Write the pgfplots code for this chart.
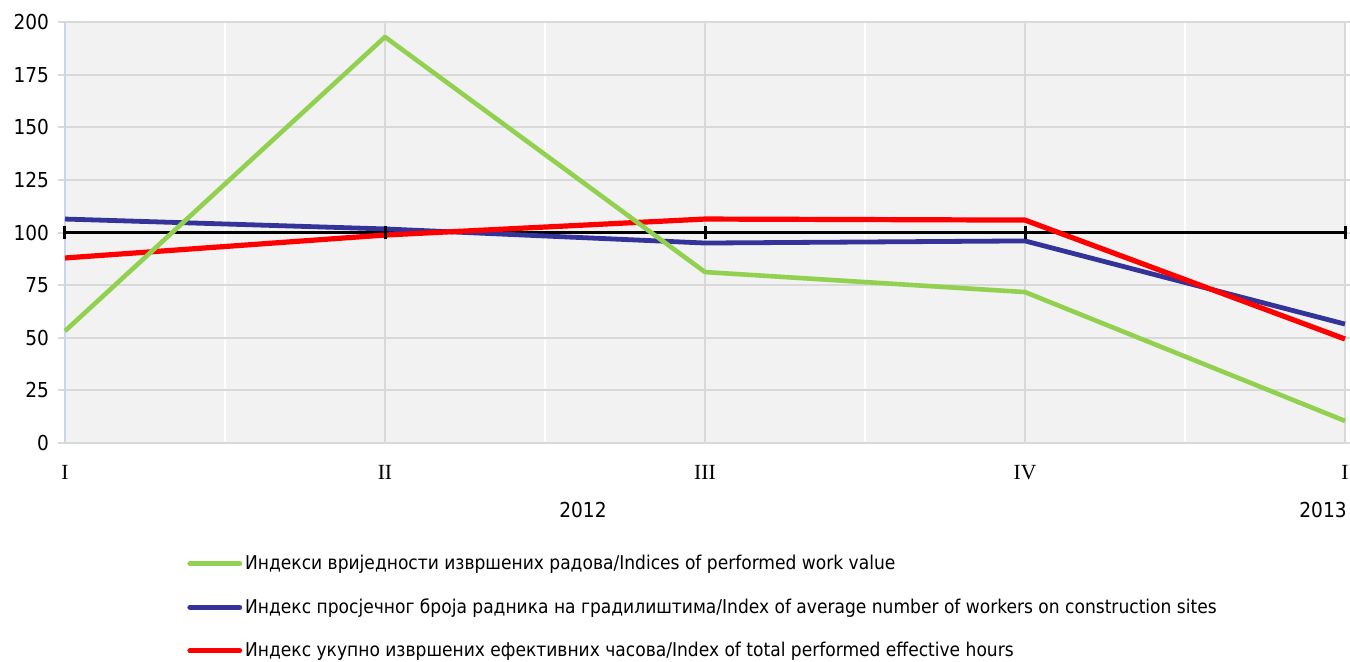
\documentclass[border=0pt]{standalone}
\usepackage{pgfplots}
\pgfplotsset{compat=1.18}
\usepackage{fontspec}
\setmainfont{DejaVu Sans Condensed}
\newfontfamily\tnr{Liberation Serif}
\definecolor{cgreen}{HTML}{92D050}
\definecolor{cblue}{HTML}{333399}
\definecolor{cred}{HTML}{FF0000}
\definecolor{cbg}{HTML}{F2F2F2}
\definecolor{cgrid}{HTML}{D9D9D9}
\definecolor{caxis}{HTML}{C9D5EE}
\begin{document}
\begin{tikzpicture}
\path[use as bounding box] (-32.5pt,-109pt) rectangle (642.5pt,221.5pt);
\begin{axis}[
  scale only axis, width=640pt, height=210.5pt,
  at={(0,0)}, anchor=south west,
  xmin=0, xmax=4, ymin=0, ymax=200,
  clip=false,
  /pgf/number format/assume math mode=true,
  xtick={0,1,2,3,4}, xticklabels={I,II,III,IV,I},
  minor xtick={0.5,1.5,2.5,3.5},
  ytick={0,25,...,200},
  xmajorgrids, ymajorgrids, xminorgrids,
  major grid style={cgrid, line width=1pt},
  minor grid style={white, line width=1.3pt},
  axis background/.style={fill=cbg},
  axis line style={draw=none},
  x tick style={draw=none}, minor x tick style={draw=none},
  y tick style={cgrid, line width=1pt},
  tick align=outside, major tick length=3.5pt,
  xticklabel style={font=\tnr\fontsize{10.8}{12}\selectfont, yshift=-4pt},
  yticklabel style={font=\fontsize{10.3}{12}\selectfont, xshift=-1pt},
  legend cell align=left,
  legend style={at={(axis description cs:0.0953,-0.265)}, anchor=north west,
    draw=none, fill=none, inner sep=0pt, row sep=13pt,
    font=\fontsize{9.5}{11}\selectfont,
    nodes={inner xsep=1.5pt, inner ysep=0pt}},
  legend image code/.code={\draw[#1, line cap=round] (0pt,0pt) -- (25pt,0pt);},
]
\draw[caxis, line width=1pt] (rel axis cs:0,0) -- (rel axis cs:0,1);
\addlegendimage{cgreen, line width=2.4pt}
\addlegendentry{Индекси вриједности извршених радова/Indices of performed work value}
\addlegendimage{cblue, line width=2.4pt}
\addlegendentry{Индекс просјечног броја радника на градилиштима/Index of average number of workers on construction sites}
\addlegendimage{cred, line width=2.4pt}
\addlegendentry{Индекс укупно извршених ефективних часова/Index of total performed effective hours}
\addplot[black, line width=1.5pt, mark=|, mark size=3.2pt, mark options={line width=1.5pt}, forget plot]
  coordinates {(0,100)(1,100)(2,100)(3,100)(4,100)};
\addplot[cblue, line width=2.4pt, line join=round, forget plot]
  coordinates {(0,106.4)(1,101.7)(2,95.0)(3,96.0)(4,56.5)};
\addplot[cred, line width=2.6pt, line join=round, forget plot]
  coordinates {(0,87.9)(1,98.8)(2,106.4)(3,105.9)(4,49.4)};
\addplot[cgreen, line width=2.3pt, line join=round, forget plot]
  coordinates {(0,53.2)(1,192.9)(2,81.2)(3,71.7)(4,10.5)};
\end{axis}
\node[font=\fontsize{10.3}{12}\selectfont] at (259pt,-33.5pt) {2012};
\node[font=\fontsize{10.3}{12}\selectfont, anchor=east, inner sep=0pt] at (641pt,-33.5pt) {2013};
\end{tikzpicture}
\end{document}
